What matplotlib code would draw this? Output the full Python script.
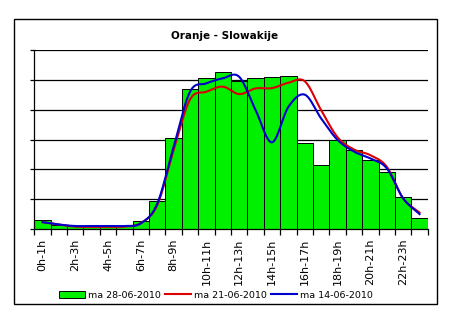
import numpy as np
import matplotlib
matplotlib.use("Agg")
import matplotlib.pyplot as plt
from matplotlib.patches import Rectangle
from matplotlib.lines import Line2D

categories = [f"{h}h-{h+1}h" for h in range(24)]
tick_labels = [c if i % 2 == 0 else "" for i, c in enumerate(categories)]

bars_2806 = [0.29, 0.13, 0.09, 0.09, 0.09, 0.09, 0.26, 0.94, 3.07, 4.69, 5.07, 5.27,
             4.96, 5.06, 5.10, 5.14, 2.90, 2.16, 2.98, 2.64, 2.33, 1.90, 1.06, 0.36]
red_2106 = [0.23, 0.15, 0.08, 0.07, 0.07, 0.08, 0.20, 0.80, 2.65, 4.35, 4.61, 4.78,
            4.53, 4.72, 4.73, 4.91, 4.96, 3.99, 3.08, 2.67, 2.48, 2.09, 1.03, 0.55]
blue_1406 = [0.23, 0.15, 0.10, 0.10, 0.10, 0.10, 0.19, 0.85, 2.76, 4.61, 4.89, 5.06,
             5.11, 3.99, 2.91, 4.10, 4.51, 3.71, 2.99, 2.60, 2.37, 2.04, 1.03, 0.50]

labels = ["ma 28-06-2010", "ma 21-06-2010", "ma 14-06-2010"]


def smooth(x, y, n=20):
    # Catmull-Rom spline through the data points (Excel-style smoothed line)
    x = np.asarray(x, float)
    y = np.asarray(y, float)
    px = np.concatenate([[2 * x[0] - x[1]], x, [2 * x[-1] - x[-2]]])
    py = np.concatenate([[2 * y[0] - y[1]], y, [2 * y[-1] - y[-2]]])
    xs, ys = [], []
    t = np.linspace(0, 1, n, endpoint=False)
    for i in range(1, len(px) - 2):
        for arr, out in ((px, xs), (py, ys)):
            p0, p1, p2, p3 = arr[i - 1], arr[i], arr[i + 1], arr[i + 2]
            out.extend(0.5 * ((2 * p1) + (-p0 + p2) * t
                              + (2 * p0 - 5 * p1 + 4 * p2 - p3) * t ** 2
                              + (-p0 + 3 * p1 - 3 * p2 + p3) * t ** 3))
    xs.append(x[-1]); ys.append(y[-1])
    return np.array(xs), np.array(ys)


W, H = 471, 328
fig = plt.figure(figsize=(W / 100, H / 100), dpi=100)
fig.patch.set_facecolor("white")

ax = fig.add_axes([34.3 / W, 1 - 229 / H, (427.7 - 34.3) / W, (229 - 50.3) / H])
x = np.arange(len(categories))
green = "#00F000"
ax.bar(x, bars_2806, width=1.0, color=green, edgecolor="black", linewidth=0.7,
       zorder=2, label=labels[0])
sx, sy = smooth(x, red_2106)
ax.plot(sx, sy, color="#dd0000", lw=1.5, zorder=3, label=labels[1])
sx, sy = smooth(x, blue_1406)
ax.plot(sx, sy, color="#0000cc", lw=1.5, zorder=4, label=labels[2])

ax.set_xlim(-0.5, 23.5)
ax.set_ylim(0, 6)
ax.set_yticks(range(7))
ax.set_yticklabels([])
ax.yaxis.grid(True, color="black", lw=0.9, zorder=1)
ax.set_axisbelow(True)
ax.tick_params(axis="y", length=3, width=0.9, color="black", direction="out")
ax.set_xticks(np.arange(-0.5, 24, 1), minor=False)
ax.set_xticklabels([])
ax.set_xticks(x, minor=True)
ax.set_xticklabels(tick_labels, minor=True, rotation=90, fontsize=8)
ax.tick_params(axis="x", which="major", length=4, width=0.9, direction="out")
ax.tick_params(axis="x", which="minor", length=0, pad=7)
for s in ("top", "right"):
    ax.spines[s].set_visible(False)
for s in ("left", "bottom"):
    ax.spines[s].set_linewidth(0.9)

fig.text(225 / W, 1 - 36 / H, "Oranje - Slowakije", ha="center", va="center",
         fontsize=7.5, fontweight="bold")

handles = [Rectangle((0, 0), 1, 1, facecolor=green, edgecolor="black", lw=0.7),
           Line2D([], [], color="#dd0000", lw=1.5),
           Line2D([], [], color="#0000cc", lw=1.5)]
fig.legend(handles, labels, loc="center", bbox_to_anchor=(216 / W, 1 - 295 / H),
           ncol=3, frameon=False, fontsize=6.8, handlelength=2.8, handleheight=0.8,
           handletextpad=0.3, columnspacing=0.4, borderpad=0)

fig.add_artist(Rectangle((14 / W, 1 - 304 / H), 423 / W, 285 / H, transform=fig.transFigure,
                         fill=False, edgecolor="black", lw=1.0))

fig.savefig("out.png", dpi=100)
